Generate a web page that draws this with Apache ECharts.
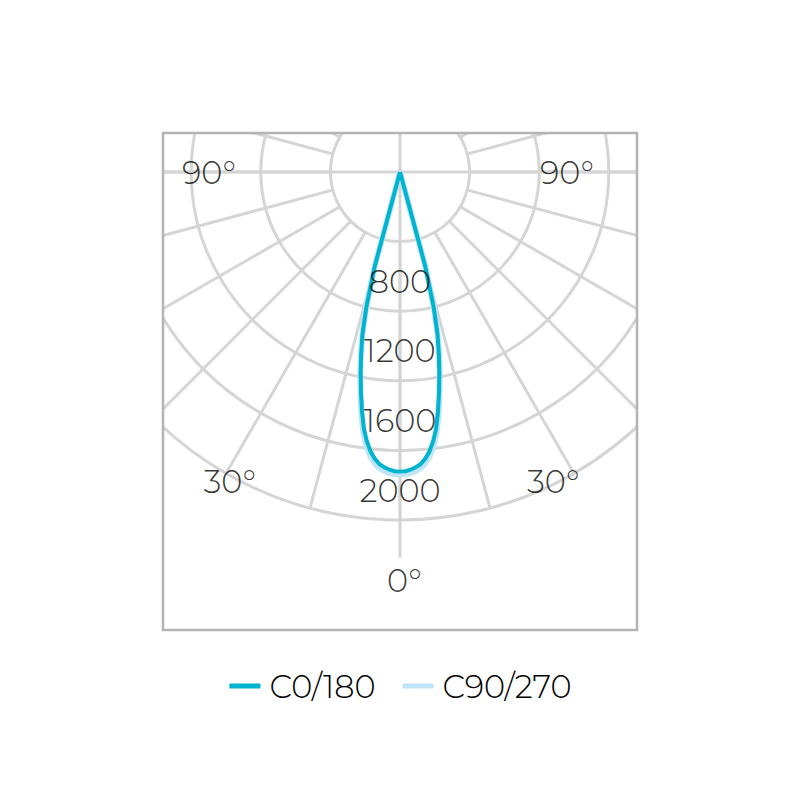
<!DOCTYPE html>
<html>
<head>
<meta charset="utf-8">
<style>
  html, body { margin: 0; padding: 0; background: #ffffff; }
  #chart { width: 801px; height: 800px; }
</style>
<script src="https://cdn.jsdelivr.net/npm/echarts@6/dist/echarts.min.js"></script>
</head>
<body>
<div id="chart"></div>
<script>
// ---------- DATA ----------
var seriesNames = ['C0/180', 'C90/270'];
// gamma angles (degrees, 0 = straight down)
var gammaAngles = [-20, -15, -14, -13, -12, -11, -10, -9, -8, -7, -6, -5, -4, -3, -2, -1, 0,
                   1, 2, 3, 4, 5, 6, 7, 8, 9, 10, 11, 12, 13, 14, 15, 20];
// luminous intensity (cd/klm)
var c0_180 = [0, 560, 800, 960, 1075, 1185, 1290, 1395, 1490, 1560, 1616, 1655, 1684, 1700, 1712, 1720, 1722,
              1720, 1712, 1700, 1684, 1655, 1616, 1560, 1490, 1395, 1290, 1185, 1075, 960, 800, 560, 0];
var c90_270 = [0, 565, 805, 965, 1085, 1195, 1305, 1415, 1512, 1585, 1640, 1678, 1705, 1720, 1730, 1736, 1738,
               1736, 1730, 1720, 1705, 1678, 1640, 1585, 1512, 1415, 1305, 1195, 1085, 965, 805, 565, 0];
// radial tick labels
var radiusTicks = [800, 1200, 1600, 2000];
// angle tick labels
var angleTickLabels = ['90°', '90°', '30°', '30°', '0°'];

// ---------- LAYOUT / STYLE ----------
var FONT = 'Montserrat, Lato, "Noto Sans", sans-serif';
var GRID = '#d5d5d5';
var TEXT = '#000000';
var CENTER = [400, 172];
// where each angle label sits, in [radius value, gamma angle]
var angleLabelSpots = [[1098, 90], [960, -90], [2031, 28.8], [1986, -26.3], [2345, -0.6]];

function pair(vals) {
  return gammaAngles.map(function (a, i) { return [vals[i], a]; });
}

var chart = echarts.init(document.getElementById('chart'), null, { renderer: 'svg' });

var hiddenAngle = {
  type: 'value', min: -180, max: 180, interval: 90, startAngle: 90, clockwise: true,
  axisLine: { show: false }, axisTick: { show: false }, axisLabel: { show: false }, splitLine: { show: false }
};

var labelFont = { fontFamily: FONT, fontWeight: 300, fontSize: 32, color: TEXT, textBorderWidth: 0 };

var option = {
  animation: false,
  backgroundColor: '#ffffff',
  polar: [
    { center: CENTER, radius: 386 },
    { center: CENTER, radius: 348 },
    { center: CENTER, radius: [70, 348] }
  ],
  angleAxis: [
    Object.assign({}, hiddenAngle, { polarIndex: 0, splitLine: { show: true, lineStyle: { color: GRID, width: 3 } } }),
    Object.assign({}, hiddenAngle, { polarIndex: 1 }),
    Object.assign({}, hiddenAngle, { polarIndex: 2, interval: 15, splitLine: { show: true, lineStyle: { color: GRID, width: 3 } } })
  ],
  radiusAxis: [
    { polarIndex: 0, type: 'value', min: 0, max: 2218, axisLine: { show: false }, axisTick: { show: false }, axisLabel: { show: false }, splitLine: { show: false } },
    { polarIndex: 1, type: 'value', min: 0, max: 2000, interval: 400, axisLine: { show: false }, axisTick: { show: false }, axisLabel: { show: false },
      splitLine: { show: true, lineStyle: { color: GRID, width: 3 } } },
    { polarIndex: 2, type: 'value', min: 0, max: 1, axisLine: { show: false }, axisTick: { show: false }, axisLabel: { show: false }, splitLine: { show: false } }
  ],
  legend: {
    data: seriesNames,
    top: 663,
    left: 'center',
    icon: 'rect',
    itemWidth: 31,
    itemHeight: 5,
    itemGap: 27,
    textStyle: Object.assign({}, labelFont, { padding: [0, 0, 0, 4], lineHeight: 36 })
  },
  series: [
    {
      name: seriesNames[1], type: 'line', coordinateSystem: 'polar', polarIndex: 1,
      data: pair(c90_270), symbol: 'none', z: 3,
      itemStyle: { color: '#bfe4f8' },
      lineStyle: { color: '#bfe4f8', width: 6 }
    },
    {
      name: seriesNames[0], type: 'line', coordinateSystem: 'polar', polarIndex: 1,
      data: pair(c0_180), symbol: 'none', z: 4,
      itemStyle: { color: '#00b3cf' },
      lineStyle: { color: '#00b3cf', width: 4 }
    },
    {
      name: 'radiusLabels', type: 'scatter', coordinateSystem: 'polar', polarIndex: 1,
      symbolSize: 0, z: 5, silent: true, clip: false,
      data: radiusTicks.map(function (v) { return { value: [v, 0], name: String(v) }; }),
      label: Object.assign({ show: true, position: 'inside', offset: [0, -30], formatter: '{b}' }, labelFont)
    },
    {
      name: 'angleLabels', type: 'scatter', coordinateSystem: 'polar', polarIndex: 1,
      symbolSize: 0, z: 5, silent: true, clip: false,
      data: angleLabelSpots.map(function (p, i) { return { value: p, name: angleTickLabels[i] }; }),
      label: Object.assign({ show: true, position: 'inside', formatter: '{b}' }, labelFont)
    }
  ],
  graphic: [
    { type: 'rect', z: 20, silent: true, shape: { x: 0, y: 0, width: 801, height: 132 }, style: { fill: '#ffffff' } },
    { type: 'rect', z: 20, silent: true, shape: { x: 0, y: 0, width: 162, height: 800 }, style: { fill: '#ffffff' } },
    { type: 'rect', z: 20, silent: true, shape: { x: 638, y: 0, width: 163, height: 800 }, style: { fill: '#ffffff' } },
    { type: 'rect', z: 21, silent: true, shape: { x: 163, y: 133, width: 474, height: 497 },
      style: { fill: 'none', stroke: '#b4b4b4', lineWidth: 2.5 } }
  ]
};

chart.setOption(option);
</script>
</body>
</html>
